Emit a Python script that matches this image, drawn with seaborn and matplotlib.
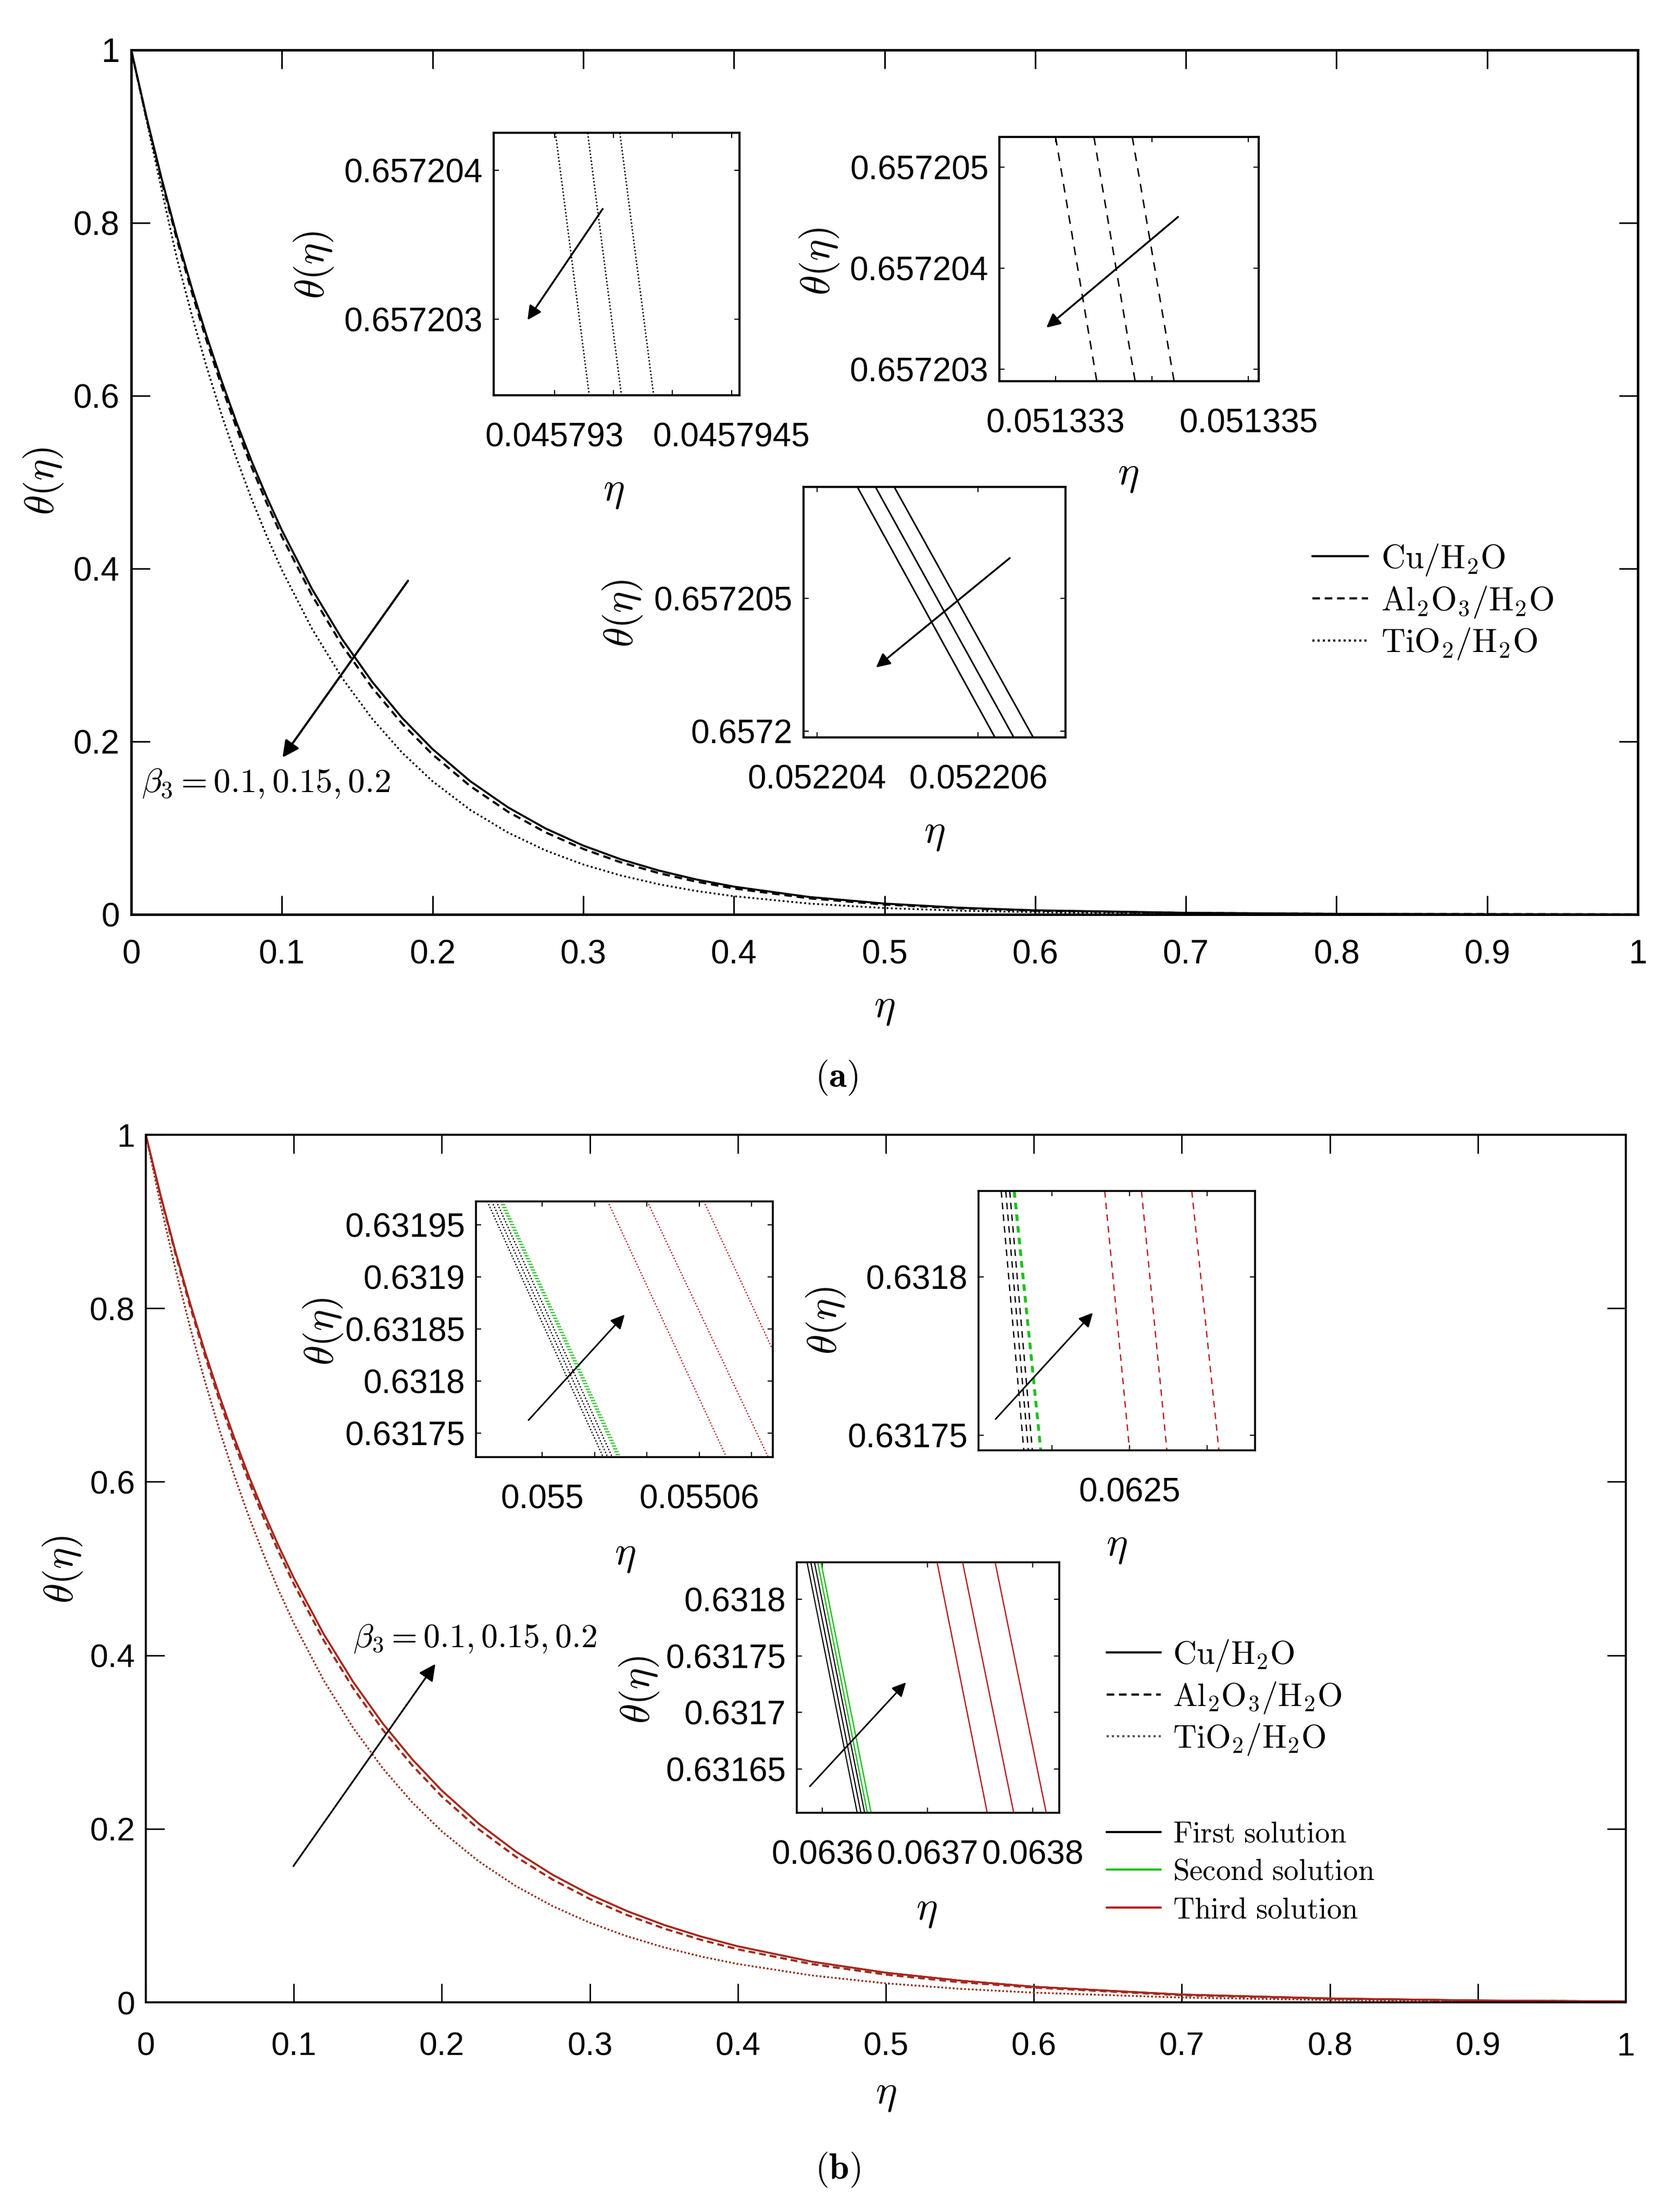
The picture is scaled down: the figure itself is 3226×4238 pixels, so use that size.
import matplotlib
matplotlib.use("Agg")
import matplotlib.pyplot as plt
from matplotlib.lines import Line2D
import seaborn as sns

sns.set_style("white")
plt.rcParams["font.family"] = ["Liberation Sans", "DejaVu Sans"]
plt.rcParams["mathtext.fontset"] = "cm"
plt.rcParams["text.color"] = "black"
plt.rcParams["axes.labelcolor"] = "black"
plt.rcParams["xtick.color"] = "black"
plt.rcParams["ytick.color"] = "black"

# ---------------- data: main curves ----------------
eta = [0, 0.01, 0.02, 0.03, 0.04, 0.05, 0.06, 0.07, 0.08, 0.09, 0.10,
       0.12, 0.14, 0.16, 0.18, 0.20, 0.225, 0.25, 0.275, 0.30, 0.325,
       0.35, 0.375, 0.40, 0.45, 0.50, 0.55, 0.60, 0.70, 0.80, 0.90, 1.00]

# panel (a)
theta_a_cu = [1.0, 0.9234, 0.8525, 0.7867, 0.7258, 0.6693, 0.6171, 0.5687, 0.5240, 0.4827, 0.4444,
              0.3764, 0.3184, 0.2690, 0.2270, 0.1913, 0.1542, 0.1240, 0.0995, 0.0797, 0.0638,
              0.0509, 0.0405, 0.0322, 0.0202, 0.0126, 0.0078, 0.0048, 0.0019, 0.0007, 0.0003, 0.0001]
theta_a_al = [1.0, 0.9220, 0.8497, 0.7829, 0.7211, 0.6640, 0.6112, 0.5624, 0.5173, 0.4757, 0.4372,
              0.3691, 0.3112, 0.2621, 0.2203, 0.1851, 0.1485, 0.1189, 0.0950, 0.0758, 0.0603,
              0.0479, 0.0380, 0.0301, 0.0187, 0.0115, 0.0071, 0.0043, 0.0017, 0.0006, 0.0003, 0.0001]
theta_a_ti = [1.0, 0.9200, 0.8400, 0.7612, 0.6946, 0.6336, 0.5779, 0.5269, 0.4802, 0.4375, 0.3985,
              0.3304, 0.2735, 0.2262, 0.1868, 0.1541, 0.1210, 0.0948, 0.0741, 0.0578, 0.0451,
              0.0350, 0.0272, 0.0211, 0.0126, 0.0074, 0.0044, 0.0026, 0.0009, 0.0003, 0.0001, 0.00004]

# panel (b)
theta_b_cu = [1.0, 0.9302, 0.8654, 0.8053, 0.7495, 0.6977, 0.6496, 0.6049, 0.5635, 0.5250, 0.4892,
              0.4250, 0.3696, 0.3216, 0.2801, 0.2441, 0.2059, 0.1738, 0.1469, 0.1243, 0.1053,
              0.0893, 0.0759, 0.0646, 0.0469, 0.0342, 0.0251, 0.0180, 0.0090, 0.0045, 0.0022, 0.0011]
theta_b_al = [1.0, 0.9288, 0.8629, 0.8018, 0.7451, 0.6927, 0.6440, 0.5989, 0.5571, 0.5183, 0.4822,
              0.4178, 0.3623, 0.3144, 0.2731, 0.2373, 0.1994, 0.1678, 0.1413, 0.1192, 0.1007,
              0.0852, 0.0721, 0.0611, 0.0441, 0.0320, 0.0233, 0.0170, 0.0083, 0.0041, 0.0020, 0.0010]
theta_b_ti = [1.0, 0.9192, 0.8452, 0.7774, 0.7153, 0.6584, 0.6061, 0.5582, 0.5143, 0.4740, 0.4369,
              0.3717, 0.3166, 0.2700, 0.2305, 0.1971, 0.1624, 0.1340, 0.1108, 0.0918, 0.0762,
              0.0634, 0.0529, 0.0442, 0.0310, 0.0219, 0.0156, 0.0112, 0.0055, 0.0027, 0.0013, 0.0006]

main_xticks = [0, 0.1, 0.2, 0.3, 0.4, 0.5, 0.6, 0.7, 0.8, 0.9, 1.0]
main_xlabels = ["0", "0.1", "0.2", "0.3", "0.4", "0.5", "0.6", "0.7", "0.8", "0.9", "1"]
main_yticks = [0, 0.2, 0.4, 0.6, 0.8, 1.0]
main_ylabels = ["0", "0.2", "0.4", "0.6", "0.8", "1"]

fluid_labels = [r"$\mathrm{Cu/H_2O}$", r"$\mathrm{Al_2O_3/H_2O}$", r"$\mathrm{TiO_2/H_2O}$"]
solution_labels = [r"$\mathrm{First\ solution}$", r"$\mathrm{Second\ solution}$",
                   r"$\mathrm{Third\ solution}$"]
beta_text = r"$\beta_3 = 0.1, 0.15, 0.2$"

# ---------------- data: zoomed insets (each line: eta at top / bottom of the window) ----------------
a1_theta = [0.65720425, 0.65720249]
a1_eta = [[0.04579300909, 0.04579329545], [0.04579328182, 0.04579356818],
          [0.04579355455, 0.04579384091]]
a1_xlim = [0.0457924866, 0.0457945682]
a1_xticks = [0.045793, 0.0457935, 0.045794, 0.0457945]
a1_xlabels = ["0.045793", "", "", "0.0457945"]
a1_yticks = [0.657203, 0.657204]
a1_ylabels = ["0.657203", "0.657204"]

a2_theta = [0.657205298, 0.6572028815]
a2_eta = [[0.051333, 0.0513334273], [0.0513333976, 0.0513338249],
          [0.0513337953, 0.0513342285]]
a2_xlim = [0.0513324184, 0.051335107]
a2_xticks = [0.051333, 0.051334, 0.051335]
a2_xlabels = ["0.051333", "", "0.051335"]
a2_yticks = [0.657203, 0.657204, 0.657205]
a2_ylabels = ["0.657203", "0.657204", "0.657205"]

a3_theta = [0.6572091935, 0.657199774]
a3_eta = [[0.0522045, 0.052206208], [0.052204725, 0.052206442],
          [0.0522049583, 0.052206683]]
a3_xlim = [0.0522038333, 0.0522070833]
a3_xticks = [0.052204, 0.052206]
a3_xlabels = ["0.052204", "0.052206"]
a3_yticks = [0.6572, 0.657205]
a3_ylabels = ["0.6572", "0.657205"]

b1_theta = [0.63197278, 0.63172722]
b1_eta_first = [[0.05497907, 0.0550233], [0.0549808, 0.05502503], [0.05498252, 0.05502675]]
b1_eta_second = [[0.054984, 0.0550288], [0.05498447, 0.05502934], [0.054985, 0.0550299]]
b1_eta_third = [[0.05502503, 0.05507033], [0.05504013, 0.0550863], [0.0550617, 0.055107]]
b1_xlim = [0.05497476, 0.05508805]
b1_xticks = [0.055, 0.05502, 0.05504, 0.05506, 0.05508]
b1_xlabels = ["0.055", "", "", "0.05506", ""]
b1_yticks = [0.63175, 0.6318, 0.63185, 0.6319, 0.63195]
b1_ylabels = ["0.63175", "0.6318", "0.63185", "0.6319", "0.63195"]

b2_theta = [0.63182714, 0.63174513]
b2_eta_first = [[0.06241715, 0.06243175], [0.06242007, 0.06243467], [0.06242263, 0.06243723]]
b2_eta_second = [[0.062425, 0.0624422], [0.06242555, 0.0624427], [0.0624261, 0.0624432]]
b2_eta_third = [[0.06248394, 0.0625], [0.06250766, 0.06252409], [0.06254015, 0.06255766]]
b2_xlim = [0.06240255, 0.06258102]
b2_xticks = [0.06245, 0.0625, 0.06255]
b2_xlabels = ["", "0.0625", ""]
b2_yticks = [0.63175, 0.6318]
b2_ylabels = ["0.63175", "0.6318"]

b3_theta = [0.63183243, 0.6316115]
b3_eta_first = [[0.06358543, 0.06363311], [0.06358896, 0.06363664], [0.06359249, 0.06364018]]
b3_eta_second = [[0.06359558, 0.06364283], [0.06359868, 0.06364636]]
b3_eta_third = [[0.06370905, 0.06375673], [0.06373333, 0.0637819], [0.06376424, 0.0638128]]
b3_xlim = [0.06357572, 0.06382517]
b3_xticks = [0.0636, 0.0637, 0.0638]
b3_xlabels = ["0.0636", "0.0637", "0.0638"]
b3_yticks = [0.63165, 0.6317, 0.63175, 0.6318]
b3_ylabels = ["0.63165", "0.6317", "0.63175", "0.6318"]

# ---------------- styling helpers ----------------
C_FIRST = "black"
C_SECOND = "#1fc01f"
C_THIRD = "#b81f22"
DOT = (0, (1, 1.4))
DASH = (0, (3.5, 2.2))


def style_axes(ax, spine_w, tick_len, tick_w, fs, xpad, ypad):
    ax.set_facecolor("white")
    for s in ax.spines.values():
        s.set_visible(True)
        s.set_linewidth(spine_w)
        s.set_color("black")
    ax.tick_params(axis="both", which="both", direction="in", top=True, right=True,
                   bottom=True, left=True, length=tick_len, width=tick_w,
                   labelsize=fs, colors="black")
    ax.tick_params(axis="x", pad=xpad)
    ax.tick_params(axis="y", pad=ypad)


def set_labels(ax, xy_x, xy_y, fs):
    ax.set_xlabel(r"$\eta$", fontsize=fs, va="center")
    ax.set_ylabel(r"$\theta(\eta)$", fontsize=fs, va="center")
    ax.xaxis.set_label_coords(*xy_x)
    ax.yaxis.set_label_coords(*xy_y)


def arrow(ax, start, end, lw, ms):
    ax.annotate("", xy=end, xytext=start,
                arrowprops=dict(arrowstyle="-|>", color="black", lw=lw,
                                mutation_scale=ms, shrinkA=0, shrinkB=0))


def make_inset(rect, xlim, ylim, xticks, xlabels, yticks, ylabels, xl, yl, spine_w=3.0):
    ax = fig.add_axes(rect)
    style_axes(ax, spine_w, 7, 1.6, 46, 37, 15)
    ax.set_xlim(*xlim)
    ax.set_ylim(ylim[1], ylim[0])
    ax.set_xticks(xticks, labels=xlabels)
    ax.set_yticks(yticks, labels=ylabels)
    set_labels(ax, xl, yl, 56)
    return ax


def draw_group(ax, etas, thetas, color, ls, lw):
    for pair in etas:
        sns.lineplot(x=pair, y=thetas, ax=ax, color=color, linestyle=ls, lw=lw,
                     estimator=None, sort=False)


fig = plt.figure(figsize=(32.26, 42.38), dpi=100)

# ======================= panel (a) =======================
axA = fig.add_axes([0.07811, 0.58565, 0.8968, 0.3917])
style_axes(axA, 3.4, 26, 2.2, 46, 34, 16)
sns.lineplot(x=eta, y=theta_a_ti, ax=axA, color="black", linestyle=DOT, lw=2.5, estimator=None)
sns.lineplot(x=eta, y=theta_a_al, ax=axA, color="black", linestyle=DASH, lw=3.0, estimator=None)
sns.lineplot(x=eta, y=theta_a_cu, ax=axA, color="black", linestyle="-", lw=2.8, estimator=None)
axA.set_xlim(0, 1)
axA.set_ylim(0, 1)
axA.set_xticks(main_xticks, labels=main_xlabels)
axA.set_yticks(main_yticks, labels=main_ylabels)
set_labels(axA, (0.50, -0.108), (-0.0584, 0.501), 56)
axA.text(0.0069, 0.1516, beta_text, fontsize=47, ha="left", va="center")
arrow(axA, (0.1837, 0.386), (0.1004, 0.1815), 3.0, 48)

handles_a = [Line2D([], [], color="black", lw=3.0, ls="-"),
             Line2D([], [], color="black", lw=3.0, ls=DASH),
             Line2D([], [], color="black", lw=3.0, ls=DOT)]
axA.legend(handles_a, fluid_labels, loc="upper left", bbox_to_anchor=(0.7811, 0.7544),
           bbox_transform=fig.transFigure, frameon=False, fontsize=46,
           handlelength=1.67, handletextpad=0.4, labelspacing=0.2,
           borderpad=0, borderaxespad=0)

# insets (a)
ia1 = make_inset([0.2939, 0.8209, 0.1463, 0.1189], a1_xlim, a1_theta, a1_xticks, a1_xlabels,
                 a1_yticks, a1_ylabels, (0.488, -0.367), (-0.732, 0.496))
draw_group(ia1, a1_eta, a1_theta, "black", DOT, 2.0)
arrow(ia1, (0.04579340909, 0.65720374), (0.04579277273, 0.657202995), 2.6, 40)

ia2 = make_inset([0.5949, 0.8273, 0.1544, 0.1107], a2_xlim, a2_theta, a2_xticks, a2_xlabels,
                 a2_yticks, a2_ylabels, (0.496, -0.384), (-0.694, 0.49))
draw_group(ia2, a2_eta, a2_theta, "black", (0, (6, 5)), 2.0)
arrow(ia2, (0.05133427, 0.6572045063), (0.051332905, 0.657203411), 2.6, 40)

ia3 = make_inset([0.4783, 0.6659, 0.1559, 0.1135], a3_xlim, a3_theta, a3_xticks, a3_xlabels,
                 a3_yticks, a3_ylabels, (0.50, -0.383), (-0.69, 0.494))
draw_group(ia3, a3_eta, a3_theta, "black", "-", 2.2)
arrow(ia3, (0.052206392, 0.657206516), (0.052204733, 0.657202403), 2.6, 40)

fig.text(0.498, 0.5118, r"$(\mathbf{a})$", fontsize=50, ha="center", va="center")

# ======================= panel (b) =======================
axB = fig.add_axes([0.08680, 0.09273, 0.8810, 0.3931])
style_axes(axB, 2.8, 26, 2.0, 45, 40, 15)
for col in [C_FIRST, C_SECOND, C_THIRD]:
    sns.lineplot(x=eta, y=theta_b_ti, ax=axB, color=col, linestyle=DOT, lw=2.2, estimator=None)
    sns.lineplot(x=eta, y=theta_b_al, ax=axB, color=col, linestyle=DASH, lw=2.6, estimator=None)
    sns.lineplot(x=eta, y=theta_b_cu, ax=axB, color=col, linestyle="-", lw=2.4, estimator=None)
axB.set_xlim(0, 1)
axB.set_ylim(0, 1)
axB.set_xticks(main_xticks, labels=main_xlabels)
axB.set_yticks(main_yticks, labels=main_ylabels)
set_labels(axB, (0.50, -0.106), (-0.0563, 0.499), 56)
axB.text(0.140, 0.419, beta_text, fontsize=46, ha="left", va="center")
arrow(axB, (0.0997, 0.157), (0.1956, 0.390), 2.4, 48)

handles_b1 = [Line2D([], [], color="black", lw=3.0, ls="-"),
              Line2D([], [], color="black", lw=3.0, ls=DASH),
              Line2D([], [], color="#555555", lw=3.0, ls=DOT)]
leg1 = axB.legend(handles_b1, fluid_labels, loc="upper left", bbox_to_anchor=(0.6587, 0.2579),
                  bbox_transform=fig.transFigure, frameon=False, fontsize=45,
                  handlelength=1.66, handletextpad=0.37, labelspacing=0.2,
                  borderpad=0, borderaxespad=0)
axB.add_artist(leg1)
handles_b2 = [Line2D([], [], color=C_FIRST, lw=3.0),
              Line2D([], [], color=C_SECOND, lw=3.0),
              Line2D([], [], color=C_THIRD, lw=3.0)]
axB.legend(handles_b2, solution_labels, loc="upper left", bbox_to_anchor=(0.6587, 0.1752),
           bbox_transform=fig.transFigure, frameon=False, fontsize=41,
           handlelength=1.83, handletextpad=0.4, labelspacing=0.33,
           borderpad=0, borderaxespad=0)

# insets (b)
ib1 = make_inset([0.2833, 0.3398, 0.1767, 0.1159], b1_xlim, b1_theta, b1_xticks, b1_xlabels,
                 b1_yticks, b1_ylabels, (0.502, -0.383), (-0.515, 0.491), spine_w=2.6)
draw_group(ib1, b1_eta_first, b1_theta, C_FIRST, DOT, 1.8)
draw_group(ib1, b1_eta_second, b1_theta, C_SECOND, DOT, 1.8)
draw_group(ib1, b1_eta_third, b1_theta, C_THIRD, DOT, 1.8)
arrow(ib1, (0.05499482, 0.63176266), (0.0550315, 0.6318639), 2.2, 40)

ib2 = make_inset([0.5825, 0.3428, 0.1646, 0.1175], b2_xlim, b2_theta, b2_xticks, b2_xlabels,
                 b2_yticks, b2_ylabels, (0.50, -0.37), (-0.552, 0.50), spine_w=2.6)
draw_group(ib2, b2_eta_first, b2_theta, C_FIRST, (0, (5, 4)), 1.8)
draw_group(ib2, b2_eta_second, b2_theta, C_SECOND, (0, (5, 4)), 1.8)
draw_group(ib2, b2_eta_third, b2_theta, C_THIRD, (0, (5, 4)), 1.8)
arrow(ib2, (0.0624135, 0.63175504), (0.06247628, 0.63178866), 2.2, 40)

ib3 = make_inset([0.4743, 0.1786, 0.1562, 0.1135], b3_xlim, b3_theta, b3_xticks, b3_xlabels,
                 b3_yticks, b3_ylabels, (0.494, -0.389), (-0.60, 0.49), spine_w=2.6)
draw_group(ib3, b3_eta_first, b3_theta, C_FIRST, "-", 1.6)
draw_group(ib3, b3_eta_second, b3_theta, C_SECOND, "-", 1.8)
draw_group(ib3, b3_eta_third, b3_theta, C_THIRD, "-", 1.8)
arrow(ib3, (0.06358808, 0.63163483), (0.06367947, 0.63172653), 2.2, 40)

fig.text(0.4988, 0.017, r"$(\mathbf{b})$", fontsize=50, ha="center", va="center")

fig.savefig("out.png", dpi=100, facecolor="white")
